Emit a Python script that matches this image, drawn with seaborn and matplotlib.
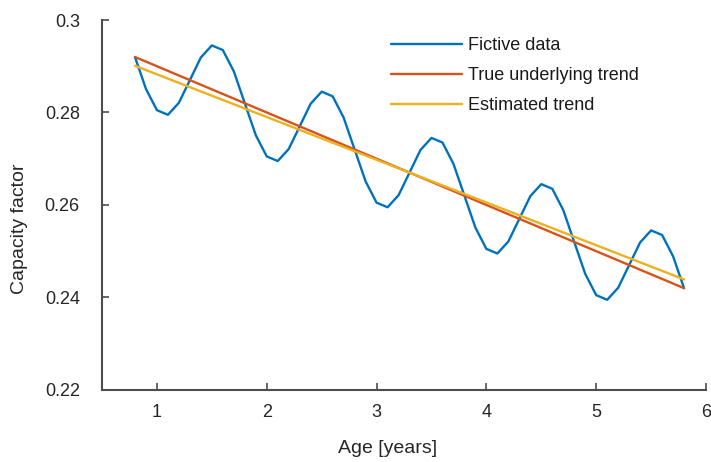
import matplotlib
matplotlib.use("Agg")
import matplotlib.pyplot as plt
import seaborn as sns
import pandas as pd

# Age in years (sampled every 0.1 year)
ages = [0.8, 0.9, 1.0, 1.1, 1.2, 1.3, 1.4, 1.5, 1.6, 1.7,
        1.8, 1.9, 2.0, 2.1, 2.2, 2.3, 2.4, 2.5, 2.6, 2.7,
        2.8, 2.9, 3.0, 3.1, 3.2, 3.3, 3.4, 3.5, 3.6, 3.7,
        3.8, 3.9, 4.0, 4.1, 4.2, 4.3, 4.4, 4.5, 4.6, 4.7,
        4.8, 4.9, 5.0, 5.1, 5.2, 5.3, 5.4, 5.5, 5.6, 5.7,
        5.8]

# Fictive capacity factor observations
fictive = [0.2920, 0.2851, 0.2805, 0.2795, 0.2821, 0.2870, 0.2919, 0.2945, 0.2935, 0.2889,
           0.2820, 0.2751, 0.2705, 0.2695, 0.2721, 0.2770, 0.2819, 0.2845, 0.2835, 0.2789,
           0.2720, 0.2651, 0.2605, 0.2595, 0.2621, 0.2670, 0.2719, 0.2745, 0.2735, 0.2689,
           0.2620, 0.2551, 0.2505, 0.2495, 0.2521, 0.2570, 0.2619, 0.2645, 0.2635, 0.2589,
           0.2520, 0.2451, 0.2405, 0.2395, 0.2421, 0.2470, 0.2519, 0.2545, 0.2535, 0.2489,
           0.2420]

# Trend lines (start / end points)
trend_ages = [0.8, 5.8]
true_trend = [0.2920, 0.2420]
estimated_trend = [0.2901, 0.2439]

x_ticks = [1, 2, 3, 4, 5, 6]
y_ticks = [0.22, 0.24, 0.26, 0.28, 0.30]
y_tick_labels = ["0.22", "0.24", "0.26", "0.28", "0.3"]

sns.set_theme(style="ticks")
plt.rcParams["font.family"] = ["Liberation Sans", "DejaVu Sans"]

blue = "#0072BD"
orange = "#D95319"
yellow = "#EDB120"
axis_col = "#4d4d4d"
text_col = "#262626"

fig = plt.figure(figsize=(7.11, 4.62), dpi=100)
ax = fig.add_axes([0.1435, 0.156, 0.8495, 0.8007])

df_data = pd.DataFrame({"age": ages, "cf": fictive})
df_trend = pd.DataFrame({"age": trend_ages, "true": true_trend, "est": estimated_trend})

sns.lineplot(data=df_data, x="age", y="cf", ax=ax, color=blue, linewidth=1.7,
             label="Fictive data")
sns.lineplot(data=df_trend, x="age", y="true", ax=ax, color=orange, linewidth=1.7,
             label="True underlying trend")
sns.lineplot(data=df_trend, x="age", y="est", ax=ax, color=yellow, linewidth=1.7,
             label="Estimated trend")

ax.set_xlim(0.5, 6)
ax.set_ylim(0.22, 0.30)
ax.set_xticks(x_ticks)
ax.set_yticks(y_ticks)
ax.set_yticklabels(y_tick_labels)

ax.set_xlabel("Age [years]", fontsize=14, color=text_col)
ax.set_ylabel("Capacity factor", fontsize=14, color=text_col)
ax.xaxis.set_label_coords(0.4735, -0.135)
ax.yaxis.set_label_coords(-0.123, 0.435)

for side in ["top", "right"]:
    ax.spines[side].set_visible(False)
for side in ["left", "bottom"]:
    ax.spines[side].set_color(axis_col)
    ax.spines[side].set_linewidth(1.5)

ax.tick_params(axis="both", direction="in", length=5, width=1.2, color=axis_col,
               labelsize=13, labelcolor=text_col)
ax.tick_params(axis="x", pad=10)
ax.tick_params(axis="y", pad=16)

leg = ax.legend(loc="upper left", bbox_to_anchor=(0.452, 0.997), frameon=False,
                fontsize=13, handlelength=3.9, handletextpad=0.35, labelspacing=0.72)
for t in leg.get_texts():
    t.set_color("#1a1a1a")

fig.savefig("out.png", dpi=100)
